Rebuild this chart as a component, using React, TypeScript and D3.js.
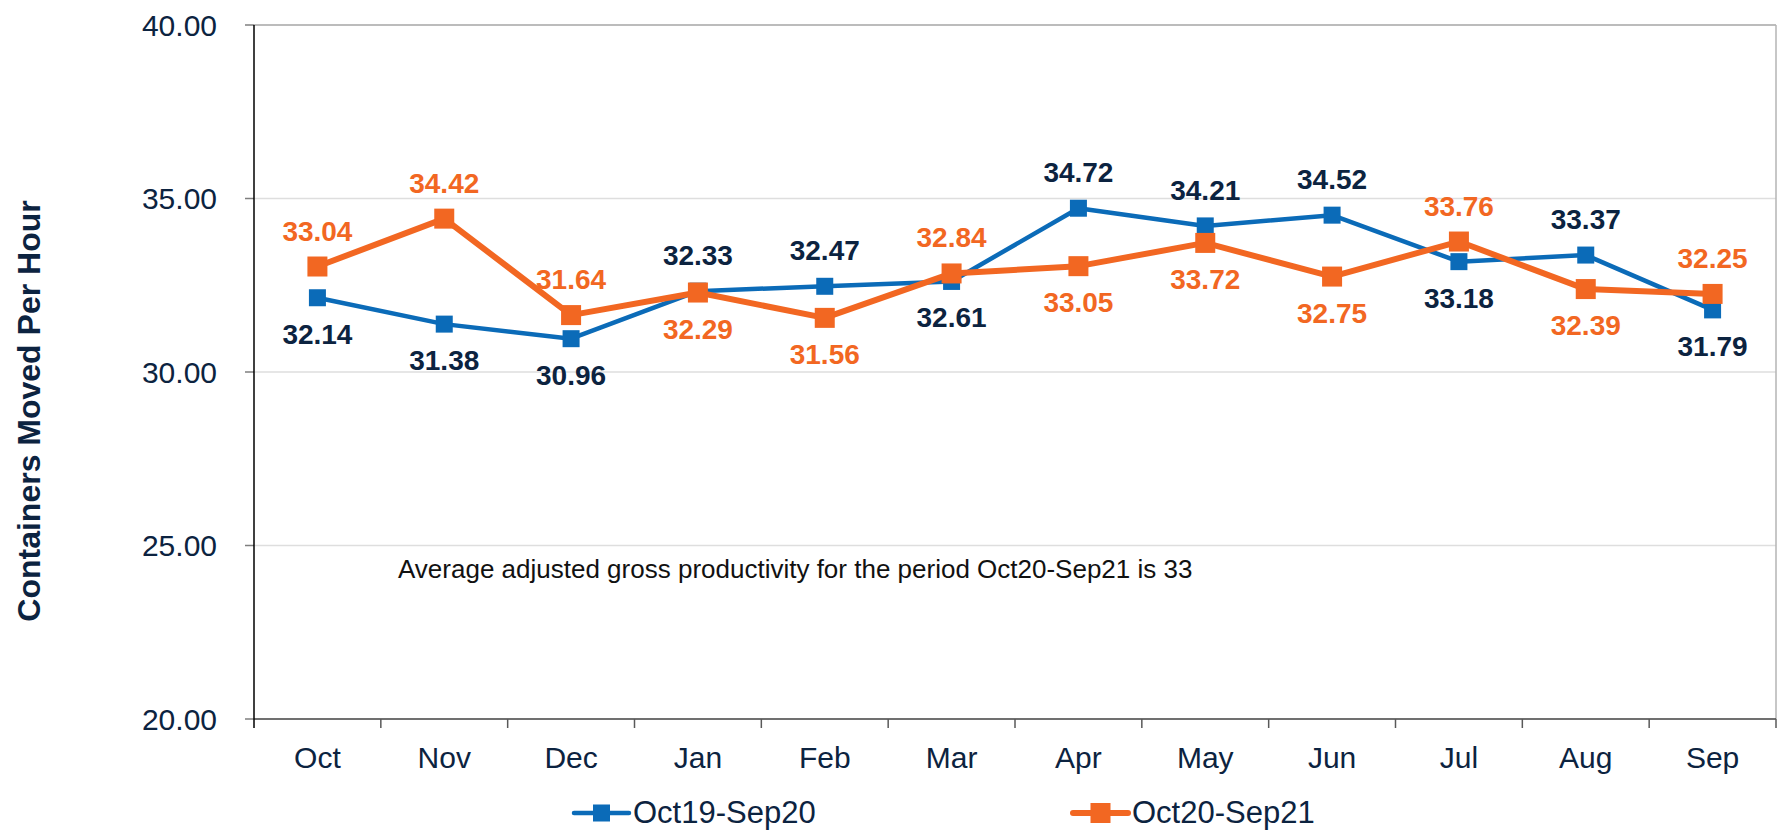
import React from 'react';
import * as d3 from 'd3';

const months = ['Oct', 'Nov', 'Dec', 'Jan', 'Feb', 'Mar', 'Apr', 'May', 'Jun', 'Jul', 'Aug', 'Sep'];
const prevYear = [32.14, 31.38, 30.96, 32.33, 32.47, 32.61, 34.72, 34.21, 34.52, 33.18, 33.37, 31.79];
const currYear = [33.04, 34.42, 31.64, 32.29, 31.56, 32.84, 33.05, 33.72, 32.75, 33.76, 32.39, 32.25];
// true = label above the point
const prevAbove = [false, false, false, true, true, false, true, true, true, false, true, false];
const currAbove = [true, true, true, false, false, true, false, false, false, true, false, true];
const yTicks = [20, 25, 30, 35, 40];
const seriesNames = ['Oct19-Sep20', 'Oct20-Sep21'];
const note = 'Average adjusted gross productivity for the period Oct20-Sep21 is 33';

const BLUE = '#0b6bb8';
const ORANGE = '#f26722';
const NAVY = '#0c2340';
const FONT = '"Liberation Sans", Arial, sans-serif';

export default function App() {
  const width = 1777, height = 835;
  const margin = { top: 25, right: 1, left: 254, bottom: 116 };
  const plotBottom = height - margin.bottom;
  const plotRight = width - margin.right;

  const x = d3.scaleBand().domain(months).range([margin.left, plotRight]).padding(0);
  const y = d3.scaleLinear().domain([20, 40]).range([plotBottom, margin.top]);
  const cx = (m: string) => (x(m) as number) + x.bandwidth() / 2;

  const line = d3.line<number>()
    .x((d, i) => cx(months[i]))
    .y(d => y(d));

  const series = [
    { name: seriesNames[0], values: prevYear, above: prevAbove, color: BLUE, stroke: 4.5, size: 17, label: NAVY },
    { name: seriesNames[1], values: currYear, above: currAbove, color: ORANGE, stroke: 6, size: 20, label: ORANGE },
  ];

  const legendX = [574, 1073];

  return (
    <svg width={width} height={height} style={{ position: 'absolute', left: 0, top: 0, background: '#fff' }}
      fontFamily={FONT}>
      {/* gridlines */}
      {yTicks.filter(t => t > 20).map(t => (
        <line key={'g' + t} x1={margin.left} x2={plotRight} y1={y(t)} y2={y(t)}
          stroke={t === 40 ? '#a6a6a6' : '#dedede'} strokeWidth={1.5} />
      ))}
      <line x1={plotRight} x2={plotRight} y1={margin.top} y2={plotBottom} stroke="#b5b5b5" strokeWidth={1.5} />

      {/* y axis */}
      {yTicks.map(t => (
        <g key={'y' + t}>
          <line x1={margin.left - 9} x2={margin.left} y1={y(t)} y2={y(t)} stroke="#7f7f7f" strokeWidth={1.5} />
          <text x={217} y={y(t)} dy="0.36em" textAnchor="end" fontSize={30} fill={NAVY}>{t.toFixed(2)}</text>
        </g>
      ))}

      {/* x axis */}
      <line x1={margin.left} x2={plotRight} y1={plotBottom} y2={plotBottom} stroke="#404040" strokeWidth={1.5} />
      {months.map((m, i) => (
        <g key={'x' + m}>
          <line x1={(x(m) as number) + x.bandwidth()} x2={(x(m) as number) + x.bandwidth()}
            y1={plotBottom} y2={plotBottom + 9} stroke="#595959" strokeWidth={1.5} />
          <text x={cx(m)} y={768} textAnchor="middle" fontSize={30} fill={NAVY}>{m}</text>
        </g>
      ))}
      <line x1={margin.left} x2={margin.left} y1={margin.top} y2={plotBottom + 9} stroke="#000" strokeWidth={1.5} />

      {/* y title */}
      <text transform={`translate(40,411) rotate(-90)`} textAnchor="middle" fontSize={32} fontWeight="bold" fill={NAVY}>
        Containers Moved Per Hour
      </text>

      {/* note */}
      <text x={398} y={578} fontSize={26} fill="#111">{note}</text>

      {/* series */}
      {series.map(s => (
        <g key={s.name}>
          <path d={line(s.values) || ''} fill="none" stroke={s.color} strokeWidth={s.stroke} strokeLinejoin="round" />
          {s.values.map((v, i) => (
            <rect key={i} x={cx(months[i]) - s.size / 2} y={y(v) - s.size / 2} width={s.size} height={s.size} fill={s.color} />
          ))}
        </g>
      ))}
      {series.map(s => (
        <g key={s.name + 'l'}>
          {s.values.map((v, i) => (
            <text key={i} x={cx(months[i])} y={y(v) + (s.above[i] ? -26 : 46)} textAnchor="middle"
              fontSize={28} fontWeight="bold" fill={s.label}>{v.toFixed(2)}</text>
          ))}
        </g>
      ))}

      {/* legend */}
      {series.map((s, i) => (
        <g key={s.name + 'lg'} transform={`translate(${legendX[i]},813)`}>
          <line x1={0} x2={55} y1={0} y2={0} stroke={s.color} strokeWidth={s.stroke} strokeLinecap="round" />
          <rect x={27.5 - s.size / 2} y={-s.size / 2} width={s.size} height={s.size} fill={s.color} />
          <text x={59} y={10} fontSize={31} fill={NAVY}>{s.name}</text>
        </g>
      ))}
    </svg>
  );
}
